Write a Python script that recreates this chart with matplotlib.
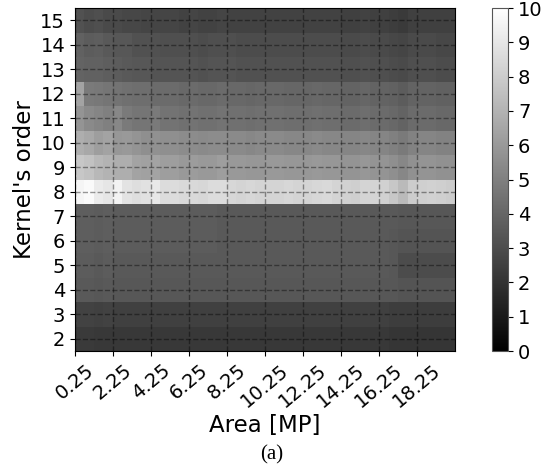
import numpy as np
import matplotlib
matplotlib.use("Agg")
import matplotlib.pyplot as plt

# Area bins (MP): left edge of each 0.5 MP column
area = [0.25 + 0.5 * i for i in range(40)]
orders = list(range(2, 16))
xtick_labels = ["0.25", "2.25", "4.25", "6.25", "8.25", "10.25", "12.25", "14.25", "16.25", "18.25"]

# one list per kernel order, 40 columns each
row_2 = [2.3, 2.3, 2.2, 2.2, 2.2, 2.2, 2.2, 2.2, 2.2, 2.2, 2.2, 2.2, 2.2, 2.2, 2.2, 2.2, 2.2, 2.2, 2.2, 2.2,
         2.2, 2.2, 2.2, 2.2, 2.2, 2.2, 2.2, 2.2, 2.2, 2.2, 2.2, 2.2, 2.2, 2.1, 2.1, 2.1, 2.1, 2.1, 2.1, 2.1]
row_3 = [2.6, 2.6, 2.5, 2.6, 2.5, 2.5, 2.5, 2.5, 2.5, 2.5, 2.5, 2.5, 2.5, 2.5, 2.5, 2.5, 2.5, 2.5, 2.5, 2.5,
         2.5, 2.5, 2.5, 2.5, 2.5, 2.5, 2.5, 2.5, 2.5, 2.5, 2.5, 2.5, 2.5, 2.4, 2.4, 2.4, 2.4, 2.4, 2.4, 2.4]
row_4 = [3.5, 3.5, 3.4, 3.5, 3.4, 3.4, 3.4, 3.4, 3.4, 3.4, 3.4, 3.4, 3.4, 3.4, 3.4, 3.4, 3.4, 3.4, 3.4, 3.4,
         3.4, 3.4, 3.4, 3.4, 3.4, 3.4, 3.4, 3.4, 3.4, 3.4, 3.4, 3.4, 3.4, 3.4, 3.3, 3.3, 3.3, 3.3, 3.3, 3.3]
row_5 = [3.6, 3.6, 3.5, 3.6, 3.5, 3.5, 3.5, 3.5, 3.5, 3.5, 3.5, 3.5, 3.5, 3.5, 3.5, 3.5, 3.5, 3.5, 3.5, 3.5,
         3.5, 3.5, 3.5, 3.5, 3.5, 3.5, 3.5, 3.5, 3.5, 3.5, 3.5, 3.5, 3.5, 3.4, 3.0, 3.0, 3.0, 3.0, 3.0, 3.0]
row_6 = [3.7, 3.7, 3.6, 3.7, 3.6, 3.6, 3.6, 3.6, 3.6, 3.6, 3.6, 3.6, 3.6, 3.6, 3.6, 3.5, 3.5, 3.5, 3.5, 3.5,
         3.5, 3.5, 3.5, 3.5, 3.5, 3.5, 3.5, 3.5, 3.5, 3.5, 3.5, 3.5, 3.5, 3.4, 3.3, 3.3, 3.3, 3.3, 3.3, 3.3]
row_7 = [3.7, 3.7, 3.6, 3.7, 3.6, 3.6, 3.6, 3.6, 3.6, 3.6, 3.6, 3.6, 3.6, 3.6, 3.6, 3.5, 3.5, 3.5, 3.5, 3.5,
         3.5, 3.5, 3.5, 3.5, 3.5, 3.5, 3.5, 3.5, 3.5, 3.5, 3.5, 3.5, 3.5, 3.5, 3.4, 3.4, 3.4, 3.4, 3.4, 3.4]
row_8 = [9.6, 9.8, 9.2, 9.0, 9.5, 8.9, 8.7, 8.8, 9.1, 8.6, 8.6, 8.5, 8.5, 8.4, 8.6, 8.6, 8.4, 8.3, 8.4, 8.3,
         8.3, 8.3, 8.4, 8.3, 8.3, 8.4, 8.5, 8.3, 8.2, 8.1, 8.3, 8.3, 8.2, 7.8, 7.3, 8.0, 8.1, 8.2, 8.1, 8.0]
row_9 = [7.8, 7.6, 7.2, 7.0, 6.8, 6.8, 6.4, 6.3, 6.4, 6.2, 6.2, 6.0, 6.1, 6.0, 6.0, 6.2, 6.0, 6.0, 5.9, 5.9,
         6.0, 6.0, 5.9, 5.9, 5.9, 6.0, 5.9, 5.9, 5.8, 5.8, 5.9, 5.8, 5.8, 5.6, 5.3, 5.7, 5.8, 5.8, 5.7, 5.7]
row_10 = [6.8, 6.6, 6.2, 6.4, 5.9, 6.0, 5.8, 5.6, 5.7, 5.6, 5.6, 5.5, 5.5, 5.4, 5.5, 5.5, 5.4, 5.4, 5.3, 5.4,
          5.4, 5.4, 5.3, 5.3, 5.3, 5.4, 5.3, 5.3, 5.2, 5.2, 5.3, 5.2, 5.2, 5.0, 4.8, 5.1, 5.2, 5.2, 5.1, 5.1]
row_11 = [5.8, 5.4, 5.2, 5.0, 5.3, 4.8, 4.6, 4.6, 4.8, 4.5, 4.5, 4.4, 4.5, 4.4, 4.4, 4.5, 4.4, 4.4, 4.3, 4.4,
          4.4, 4.4, 4.3, 4.3, 4.3, 4.4, 4.3, 4.3, 4.2, 4.2, 4.3, 4.2, 4.2, 4.1, 3.9, 4.2, 4.2, 4.2, 4.1, 4.1]
row_12 = [6.4, 4.8, 4.7, 4.6, 4.5, 4.4, 4.3, 4.3, 4.2, 4.2, 4.2, 4.1, 4.2, 4.1, 4.1, 4.2, 4.1, 4.1, 4.0, 4.1,
          4.1, 4.1, 4.0, 4.0, 4.0, 4.1, 4.0, 4.0, 3.9, 3.9, 4.0, 3.9, 3.9, 3.8, 3.6, 3.9, 3.9, 3.9, 3.8, 3.8]
row_13 = [3.9, 3.8, 3.8, 3.7, 3.6, 3.5, 3.4, 3.4, 3.3, 3.3, 3.3, 3.3, 3.3, 3.2, 3.3, 3.3, 3.3, 3.2, 3.2, 3.2,
          3.2, 3.2, 3.2, 3.2, 3.2, 3.2, 3.2, 3.2, 3.1, 3.1, 3.2, 3.1, 3.1, 3.0, 2.9, 3.1, 3.1, 3.1, 3.0, 3.0]
row_14 = [3.8, 3.6, 3.7, 3.5, 3.4, 3.4, 3.2, 3.2, 3.2, 3.1, 3.1, 3.1, 3.1, 3.0, 3.1, 3.1, 3.1, 3.0, 3.0, 3.0,
          3.0, 3.0, 3.0, 3.0, 3.0, 3.0, 3.0, 3.0, 2.9, 2.9, 3.0, 2.9, 2.9, 2.8, 2.7, 2.9, 2.9, 2.9, 2.8, 2.8]
row_15 = [3.2, 3.0, 3.1, 2.9, 2.9, 2.8, 2.8, 2.7, 2.7, 2.7, 2.7, 2.6, 2.7, 2.6, 2.6, 2.7, 2.6, 2.6, 2.6, 2.6,
          2.6, 2.6, 2.6, 2.6, 2.6, 2.6, 2.6, 2.6, 2.5, 2.5, 2.6, 2.5, 2.5, 2.4, 2.3, 2.5, 2.5, 2.5, 2.5, 2.5]

values = np.array([row_2, row_3, row_4, row_5, row_6, row_7, row_8,
                   row_9, row_10, row_11, row_12, row_13, row_14, row_15])

x_edges = np.append(area, area[-1] + 0.5)
y_edges = np.append(np.array(orders) - 0.5, orders[-1] + 0.5)

fig = plt.figure(figsize=(5.43, 4.75), dpi=100)
ax = fig.add_axes([0.138, 0.261, 0.700, 0.722])
cax = fig.add_axes([0.906, 0.261, 0.030, 0.722])

mesh = ax.pcolormesh(x_edges, y_edges, values, cmap="gray", vmin=0, vmax=10)
ax.set_xlim(x_edges[0], x_edges[-1])
ax.set_ylim(y_edges[0], y_edges[-1])

ax.set_xticks([float(t) for t in xtick_labels])
ax.set_xticklabels(xtick_labels, rotation=40, fontsize=14)
ax.set_yticks(orders)
ax.tick_params(axis="y", labelsize=14)
ax.grid(True, linestyle="--", color="black", alpha=0.4, linewidth=1)

ax.set_xlabel("Area [MP]", fontsize=16.5, labelpad=2)
ax.set_ylabel("Kernel's order", fontsize=16.5, labelpad=3)

cbar = fig.colorbar(mesh, cax=cax, ticks=range(0, 11))
cbar.ax.tick_params(labelsize=14)
cbar.outline.set_edgecolor("#555555")

fig.text(0.5, 0.042, "(a)", ha="center", va="center",
         fontsize=15, family="Liberation Serif")

fig.savefig("out.png", dpi=100)
